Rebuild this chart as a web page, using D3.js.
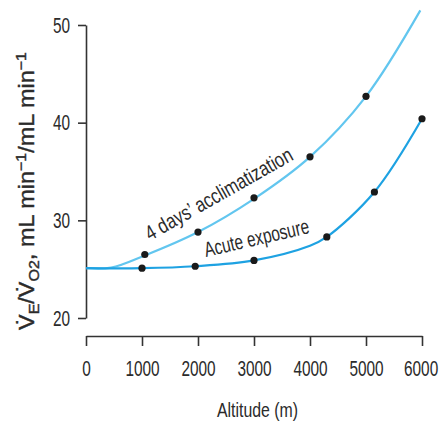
<!DOCTYPE html>
<html>
<head>
<meta charset="utf-8">
<script src="https://cdn.jsdelivr.net/npm/d3@7"></script>
<style>
  body { margin: 0; background: #fff; }
  text { font-family: "Liberation Sans", Arial, sans-serif; fill: #2b2b2b; }
</style>
</head>
<body>
<div id="chart"></div>
<script>
// measured points
var acclimAlt = [1050, 2000, 3000, 4000, 5000];
var acclimVal = [26.5, 28.8, 32.3, 36.5, 42.7];
var acuteAlt = [1000, 1950, 3000, 4300, 5150, 6000];
var acuteVal = [25.1, 25.3, 25.9, 28.3, 32.9, 40.4];

// fitted curves
var acclimCurveAlt = [0, 450, 1050, 2000, 3000, 4000, 5000, 5970];
var acclimCurveVal = [25.1, 25.15, 26.4, 28.8, 32.2, 36.5, 42.7, 51.5];
var acuteCurveAlt = [0, 1000, 1950, 3000, 4000, 4300, 5150, 6000];
var acuteCurveVal = [25.1, 25.1, 25.3, 25.9, 27.4, 28.3, 32.9, 40.4];

var xTicks = [0, 1000, 2000, 3000, 4000, 5000, 6000];
var yTicks = [20, 30, 40, 50];

var width = 439, height = 425;
var squeeze = 0.7; // condensed look for the numbers
var svg = d3.select("#chart").append("svg")
  .attr("width", width)
  .attr("height", height);

var x = d3.scaleLinear().domain([0, 6000]).range([86, 422]);
var y = d3.scaleLinear().domain([20, 50]).range([318, 25]);

// axes
var xAxis = svg.append("g")
  .attr("transform", "translate(0,336)")
  .call(d3.axisBottom(x).tickValues(xTicks).tickSize(10).tickSizeOuter(0).tickPadding(14).tickFormat(d3.format("d")));
var yAxis = svg.append("g")
  .attr("transform", "translate(86,0)")
  .call(d3.axisLeft(y).tickValues(yTicks).tickSize(8).tickSizeOuter(0).tickPadding(8));

[xAxis, yAxis].forEach(function (g) {
  g.selectAll("path, line").attr("stroke", "#333").attr("stroke-width", 1.6);
  g.selectAll("text")
    .style("font-size", "22px")
    .attr("fill", "#2b2b2b")
    .attr("transform", "scale(" + squeeze + ",1)");
});
xAxis.selectAll("text").filter(function (d) { return d === 6000; }).attr("dx", -2);
yAxis.selectAll("text").attr("x", -16 / squeeze);

// curves
var line = d3.line()
  .x(function (d) { return x(d[0]); })
  .y(function (d) { return y(d[1]); })
  .curve(d3.curveCatmullRom);

svg.append("clipPath").attr("id", "clip")
  .append("rect").attr("x", 0).attr("y", 8).attr("width", width).attr("height", height);

svg.append("path")
  .datum(d3.zip(acclimCurveAlt, acclimCurveVal))
  .attr("d", line)
  .attr("fill", "none")
  .attr("stroke", "#62c6ef")
  .attr("stroke-width", 2.2)
  .attr("clip-path", "url(#clip)");

svg.append("path")
  .datum(d3.zip(acuteCurveAlt, acuteCurveVal))
  .attr("d", line)
  .attr("fill", "none")
  .attr("stroke", "#1ea2e2")
  .attr("stroke-width", 2.2);

// points
svg.selectAll(".acclim")
  .data(d3.zip(acclimAlt, acclimVal))
  .enter().append("circle")
  .attr("class", "acclim")
  .attr("cx", function (d) { return x(d[0]); })
  .attr("cy", function (d) { return y(d[1]); })
  .attr("r", 3.6)
  .attr("fill", "#1a1a1a");

svg.selectAll(".acute")
  .data(d3.zip(acuteAlt, acuteVal))
  .enter().append("circle")
  .attr("class", "acute")
  .attr("cx", function (d) { return x(d[0]); })
  .attr("cy", function (d) { return y(d[1]); })
  .attr("r", 3.6)
  .attr("fill", "#1a1a1a");

// curve labels
svg.append("text")
  .attr("transform", "translate(150,241) rotate(-29.5)")
  .style("font-size", "21px")
  .attr("textLength", 166)
  .attr("lengthAdjust", "spacingAndGlyphs")
  .text("4 days\u2019 acclimatization");

svg.append("text")
  .attr("transform", "translate(206,257) rotate(-13)")
  .style("font-size", "21px")
  .attr("textLength", 107)
  .attr("lengthAdjust", "spacingAndGlyphs")
  .text("Acute exposure");

// axis titles
svg.append("text")
  .attr("x", 217)
  .attr("y", 417)
  .style("font-size", "21px")
  .attr("textLength", 81)
  .attr("lengthAdjust", "spacingAndGlyphs")
  .text("Altitude (m)");

var yTitle = svg.append("text")
  .attr("transform", "translate(34,330) rotate(-90)")
  .style("font-size", "22px")
  .attr("stroke", "#2b2b2b")
  .attr("stroke-width", 0.4)
  .attr("textLength", 278)
  .attr("lengthAdjust", "spacingAndGlyphs");
yTitle.append("tspan").text("V\u0307");
yTitle.append("tspan").attr("dy", 5).style("font-size", "15px").text("E");
yTitle.append("tspan").attr("dy", -5).text("/V\u0307");
yTitle.append("tspan").attr("dy", 5).style("font-size", "15px").text("O2");
yTitle.append("tspan").attr("dy", -5).text(", mL min");
yTitle.append("tspan").attr("dy", -8).style("font-size", "15px").text("\u22121");
yTitle.append("tspan").attr("dy", 8).text("/mL min");
yTitle.append("tspan").attr("dy", -8).style("font-size", "15px").text("\u22121");
</script>
</body>
</html>
